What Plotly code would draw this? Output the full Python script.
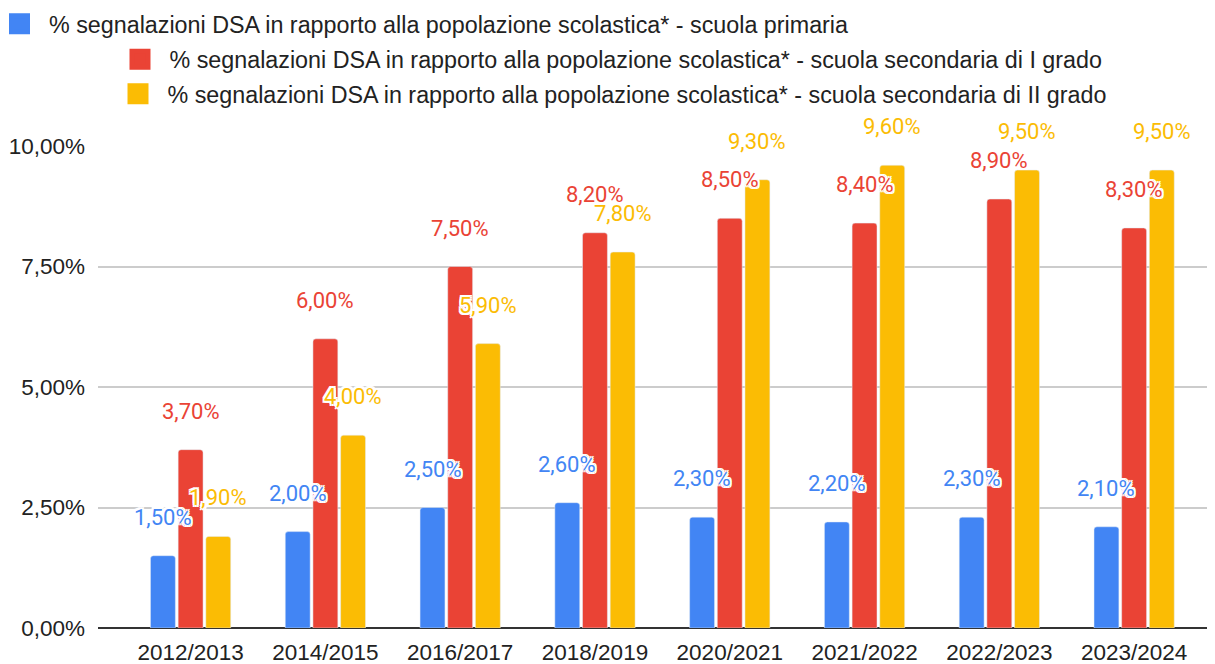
import plotly.graph_objects as go

anni = ["2012/2013", "2014/2015", "2016/2017", "2018/2019",
        "2020/2021", "2021/2022", "2022/2023", "2023/2024"]
primaria = [1.5, 2.0, 2.5, 2.6, 2.3, 2.2, 2.3, 2.1]
sec_primo = [3.7, 6.0, 7.5, 8.2, 8.5, 8.4, 8.9, 8.3]
sec_secondo = [1.9, 4.0, 5.9, 7.8, 9.3, 9.6, 9.5, 9.5]

nomi = [
    "% segnalazioni DSA in rapporto alla popolazione scolastica* - scuola primaria",
    "% segnalazioni DSA in rapporto alla popolazione scolastica* - scuola secondaria di I grado",
    "% segnalazioni DSA in rapporto alla popolazione scolastica* - scuola secondaria di II grado",
]
colori = ["#4285F4", "#EA4335", "#FBBC04"]
serie = [primaria, sec_primo, sec_secondo]
legende = ["legend", "legend2", "legend3"]

W, H = 1207, 656  # page body adds 8px margin
ML = 90
PW = W - ML
BARGAP = 0.384
slot = (1 - BARGAP) / 3

halo = ("-2px -2px 0 #fff, 2px -2px 0 #fff, -2px 2px 0 #fff, 2px 2px 0 #fff, "
        "0 2px 0 #fff, 0 -2px 0 #fff, 2px 0 0 #fff, -2px 0 0 #fff")

fig = go.Figure()

for i, (nome, col, vals) in enumerate(zip(nomi, colori, serie)):
    fig.add_trace(go.Bar(
        x=anni, y=vals, name=nome, marker_color=col,
        showlegend=False, hoverinfo="skip",
    ))
    # legend swatch
    fig.add_trace(go.Scatter(
        x=[None], y=[None], mode="markers", name=nome,
        marker=dict(symbol="square", size=16, color=col,
                    line=dict(width=5, color=col)),
        legend=legende[i],
    ))

# data labels
annotations = []
for i, (col, vals) in enumerate(zip(colori, serie)):
    for j, v in enumerate(vals):
        annotations.append(dict(
            x=j + (i - 1) * slot, y=v, xref="x", yref="y",
            text=f"{v:.2f}%".replace(".", ","),
            showarrow=False, yanchor="bottom", yshift=24,
            font=dict(family="Roboto", size=22, color=col, shadow=halo),
        ))

leg_common = dict(
    orientation="h", xref="paper", yref="container",
    xanchor="left", yanchor="middle", bgcolor="rgba(0,0,0,0)",
    font=dict(family="Liberation Sans, Arial", size=23.3, color="#222222"),
    itemwidth=49,
)

fig.update_layout(
    width=W, height=H,
    margin=dict(l=ML, r=0, t=138, b=36, autoexpand=False),
    plot_bgcolor="white", paper_bgcolor="white",
    separators=",.",
    barmode="group", bargap=BARGAP, bargroupgap=0.1, barcornerradius=3,
    annotations=annotations,
    legend=dict(leg_common, x=(-18 - ML) / PW, y=1 - 16 / H),
    legend2=dict(leg_common, x=(102.5 - ML) / PW, y=1 - 51.5 / H),
    legend3=dict(leg_common, x=(100.5 - ML) / PW, y=1 - 86 / H),
    xaxis=dict(
        type="category", range=[-0.687, 7.6],
        tickfont=dict(family="Liberation Sans, Arial", size=22.5, color="#222222"),
        showgrid=False, ticks="", showline=False,
        ticklabelstandoff=8,
    ),
    yaxis=dict(
        range=[0, 10], tickvals=[0, 2.5, 5, 7.5, 10],
        ticktext=["0,00%", "2,50%", "5,00%", "7,50%", "10,00%"],
        tickfont=dict(family="Liberation Sans, Arial", size=22.5, color="#222222"),
        gridcolor="#cccccc", gridwidth=1.5,
        zeroline=True, zerolinecolor="#333333", zerolinewidth=2,
        ticklabelstandoff=12,
    ),
)
fig.update_traces(cliponaxis=False, selector=dict(type="bar"))

fig.write_html("out.html")
